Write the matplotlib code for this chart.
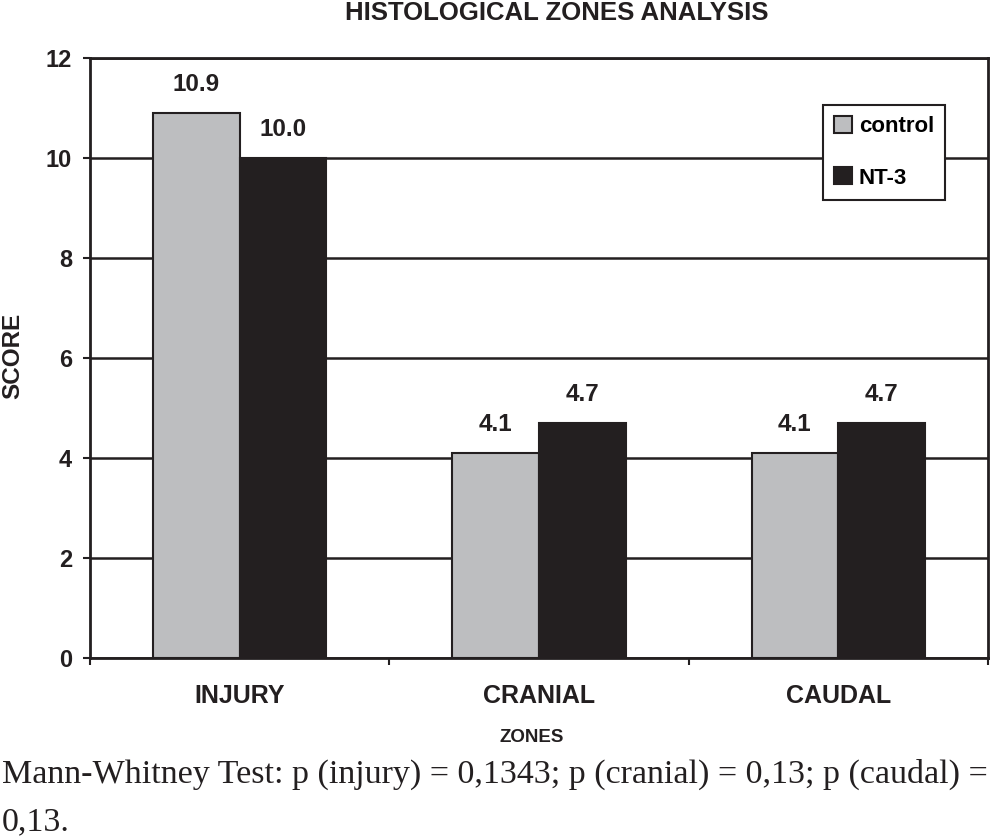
import numpy as np
import matplotlib
matplotlib.use('Agg')
import matplotlib.pyplot as plt

zones = ['INJURY', 'CRANIAL', 'CAUDAL']
control = [10.9, 4.1, 4.1]
nt3 = [10.0, 4.7, 4.7]
series_names = ['control', 'NT-3']
footnote = ['Mann-Whitney Test: p (injury) = 0,1343; p (cranial) = 0,13; p (caudal) =',
            '0,13.']

ink = '#231F20'
plt.rcParams['font.family'] = ['Liberation Sans', 'DejaVu Sans']
plt.rcParams['font.weight'] = 'bold'

W, H = 990, 836
fig = plt.figure(figsize=(W / 100, H / 100), dpi=100)
ax = fig.add_axes([90 / W, 1 - 658 / H, (988 - 90) / W, 600 / H])

x = np.arange(len(zones))
w = 0.29
b1 = ax.bar(x - w / 2, control, w, color='#BDBEC0', edgecolor=ink, linewidth=1.5,
            label=series_names[0], zorder=3)
b2 = ax.bar(x + w / 2, nt3, w, color=ink, edgecolor=ink, linewidth=1.5,
            label=series_names[1], zorder=3)

for bars, vals in [(b1, control), (b2, nt3)]:
    for r, v in zip(bars, vals):
        ax.annotate(f'{v:.1f}', (r.get_x() + r.get_width() / 2, v),
                    xytext=(0, 16), textcoords='offset points',
                    ha='center', va='baseline', fontsize=17.5, color=ink)

ax.set_xlim(-0.5, 2.5)
ax.set_ylim(0, 12)
ax.set_yticks(range(0, 13, 2))
ax.yaxis.grid(True, color=ink, linewidth=1.8)
ax.set_axisbelow(True)

# boundaries carry the tick marks, centres carry the labels
ax.set_xticks([-0.5, 0.5, 1.5, 2.5])
ax.set_xticklabels([])
ax.set_xticks(x, minor=True)
ax.set_xticklabels(zones, minor=True, fontsize=18, color=ink)
ax.tick_params(axis='x', which='minor', length=0, pad=19)
ax.tick_params(axis='x', which='major', direction='out', length=5, width=1.5, color=ink)
ax.tick_params(axis='y', direction='out', length=5, width=1.5, color=ink,
               labelsize=17, labelcolor=ink, pad=8)
for s in ax.spines.values():
    s.set_linewidth(2)
    s.set_color(ink)

leg = ax.legend(loc='upper right', bbox_to_anchor=(945 / W, 1 - 105 / H),
                bbox_transform=fig.transFigure, borderaxespad=0,
                fancybox=False, framealpha=1, edgecolor=ink, fontsize=16,
                handlelength=0.8, handleheight=0.8, handletextpad=0.3,
                labelspacing=1.35, borderpad=0.5)
leg.get_frame().set_linewidth(1.5)

fig.text(557 / W, 1 - 20 / H, 'HISTOLOGICAL ZONES ANALYSIS', ha='center', va='baseline',
         fontsize=18.5, fontweight='heavy', color=ink)
fig.text(13 / W, 1 - 356 / H, 'SCORE', rotation=90, ha='center', va='center',
         fontsize=17.5, fontweight='heavy', color=ink)
fig.text(532 / W, 1 - 738 / H, 'ZONES', ha='center', va='center',
         fontsize=13.5, fontweight='heavy', color=ink)

fig.text(2 / W, 1 - 783 / H, footnote[0], ha='left', va='baseline',
         fontsize=24.5, family='Liberation Serif', fontweight='normal', color=ink)
fig.text(2 / W, 1 - 830 / H, footnote[1], ha='left', va='baseline',
         fontsize=24.5, family='Liberation Serif', fontweight='normal', color=ink)

fig.savefig('out.png', dpi=100)
